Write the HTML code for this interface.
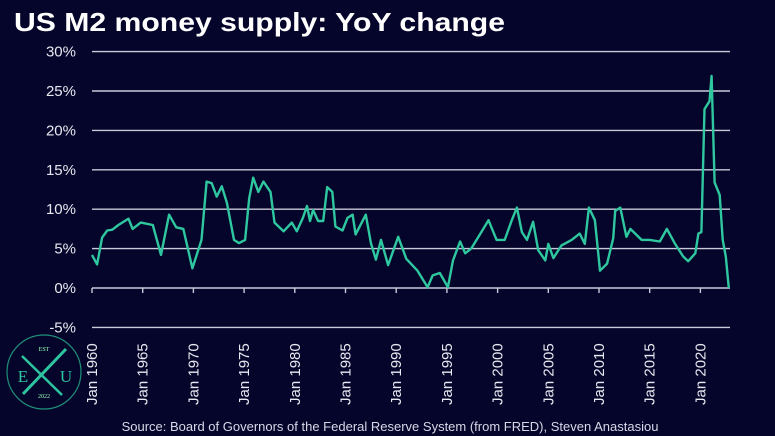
<!DOCTYPE html>
<html><head><meta charset="utf-8"><style>
html,body{margin:0;padding:0;background:#05052b;}
svg{display:block;font-family:"Liberation Sans",sans-serif;}
</style></head><body>
<svg id="chart" width="775" height="436" viewBox="0 0 775 436" xmlns="http://www.w3.org/2000/svg">
<rect width="775" height="436" fill="#05052b"/>
<text x="14" y="31" fill="#ffffff" font-size="26" font-weight="bold" textLength="491" lengthAdjust="spacingAndGlyphs">US M2 money supply: YoY change</text>
<g id="grid"></g>
<g id="xaxis"></g>
<g id="series"></g>
<g>
<circle cx="44" cy="372" r="37" fill="none" stroke="#1f8f7a" stroke-width="1.2"/>
<line x1="22" y1="356" x2="62" y2="395" stroke="#2ec4a0" stroke-width="2.5"/>
<line x1="66" y1="349" x2="23" y2="394" stroke="#2ec4a0" stroke-width="3"/>
<text x="44" y="351" fill="#9fb" font-size="6" text-anchor="middle" font-family="Liberation Serif,serif">EST</text>
<text x="23" y="382" fill="#2ec4a0" font-size="17" text-anchor="middle" font-family="Liberation Serif,serif">E</text>
<text x="66" y="382" fill="#2ec4a0" font-size="17" text-anchor="middle" font-family="Liberation Serif,serif">U</text>
<text x="44" y="398" fill="#9fb" font-size="6" text-anchor="middle" font-family="Liberation Serif,serif">2022</text>
</g>
<text x="390" y="431" fill="#d8d8e8" font-size="13" text-anchor="middle">Source: Board of Governors of the Federal Reserve System (from FRED), Steven Anastasiou</text>
</svg>
<script>
const years=[1960,1960.5,1961,1961.5,1962,1962.6,1963.6,1964,1964.8,1966,1966.8,1967.6,1968.3,1969,1969.9,1970.8,1971.3,1971.8,1972.3,1972.8,1973.3,1974,1974.5,1975.1,1975.5,1975.9,1976.4,1976.9,1977.6,1978,1978.9,1979.7,1980.2,1980.8,1981.2,1981.5,1981.8,1982.3,1982.8,1983.2,1983.7,1984,1984.7,1985.2,1985.7,1986,1987,1987.5,1988,1988.5,1989.2,1990.2,1991,1992.1,1993.1,1993.6,1994.3,1995.1,1995.6,1996.3,1996.8,1997.4,1998.3,1999.1,1999.9,2000.7,2001.4,2001.9,2002.4,2002.9,2003.5,2004,2004.7,2005,2005.5,2006.3,2007.3,2008.1,2008.6,2009,2009.6,2010.1,2010.8,2011.4,2011.6,2012.1,2012.7,2013.1,2014.2,2015,2016,2016.7,2017.5,2018.3,2018.8,2019.5,2019.8,2020.1,2020.4,2020.9,2021.1,2021.4,2021.9,2022.2,2022.5,2022.8];
const values=[4.2,3.0,6.4,7.3,7.4,8.0,8.8,7.5,8.3,8.0,4.2,9.3,7.7,7.5,2.5,6.1,13.5,13.3,11.6,12.9,10.8,6.1,5.7,6.1,11.4,14.0,12.2,13.5,12.2,8.3,7.2,8.3,7.2,8.9,10.4,8.5,9.9,8.5,8.5,12.8,12.2,7.8,7.3,8.9,9.3,6.8,9.3,5.7,3.6,6.1,2.9,6.5,3.7,2.2,0.1,1.6,1.9,0.1,3.5,5.9,4.4,5.0,6.9,8.6,6.1,6.1,8.6,10.2,7.1,6.1,8.4,4.8,3.5,5.6,3.8,5.4,6.1,6.9,5.6,10.2,8.6,2.2,3.1,6.3,9.8,10.2,6.5,7.5,6.1,6.1,5.9,7.5,5.6,4.0,3.4,4.4,6.9,7.1,22.7,23.7,26.9,13.4,11.8,6.1,4.0,0.0];
const yTicks=[-5,0,5,10,15,20,25,30];
const yTickLabels=["-5%","0%","5%","10%","15%","20%","25%","30%"];
const xTickYears=[1960,1965,1970,1975,1980,1985,1990,1995,2000,2005,2010,2015,2020];
const xTickLabels=["Jan 1960","Jan 1965","Jan 1970","Jan 1975","Jan 1980","Jan 1985","Jan 1990","Jan 1995","Jan 2000","Jan 2005","Jan 2010","Jan 2015","Jan 2020"];

const NS="http://www.w3.org/2000/svg";
const X0=92,XR=730,Y0=288,PPY=10.14,PPP=7.88;
function xs(yr){return X0+(yr-1960)*PPY;}
function ys(v){return Y0-v*PPP;}
const grid=document.getElementById('grid');
yTicks.forEach((t,i)=>{
  const l=document.createElementNS(NS,'line');
  l.setAttribute('x1',X0);l.setAttribute('x2',XR);
  l.setAttribute('y1',ys(t));l.setAttribute('y2',ys(t));
  l.setAttribute('stroke','#c9c9d9');l.setAttribute('stroke-width','1.4');
  
  
  grid.appendChild(l);
  const tx=document.createElementNS(NS,'text');
  tx.setAttribute('x',76);tx.setAttribute('y',ys(t)+5);
  tx.setAttribute('text-anchor','end');tx.setAttribute('fill','#e8e8f0');tx.setAttribute('font-size','15');
  tx.textContent=yTickLabels[i];
  
  
  grid.appendChild(tx);
});
const xa=document.getElementById('xaxis');
xTickYears.forEach((yr,i)=>{
  const x=xs(yr);
  const t=document.createElementNS(NS,'line');
  t.setAttribute('x1',x);t.setAttribute('x2',x);t.setAttribute('y1',Y0);t.setAttribute('y2',Y0+5);
  t.setAttribute('stroke','#c9c9d9');t.setAttribute('stroke-width','1.4');
  
  
  xa.appendChild(t);
  const tx=document.createElementNS(NS,'text');
  tx.setAttribute('transform','translate('+(x+5)+',405) rotate(-90)');
  tx.setAttribute('fill','#e8e8f0');tx.setAttribute('font-size','15');
  tx.textContent=xTickLabels[i];
  
  
  xa.appendChild(tx);
});
const p=document.createElementNS(NS,'path');
p.setAttribute('d',years.map((yr,i)=>(i?'L':'M')+xs(yr).toFixed(1)+','+ys(values[i]).toFixed(1)).join(''));
p.setAttribute('fill','none');p.setAttribute('stroke','#2fc79f');p.setAttribute('stroke-width','2.4');p.setAttribute('stroke-linejoin','round');


document.getElementById('series').appendChild(p);
</script>
</body></html>
